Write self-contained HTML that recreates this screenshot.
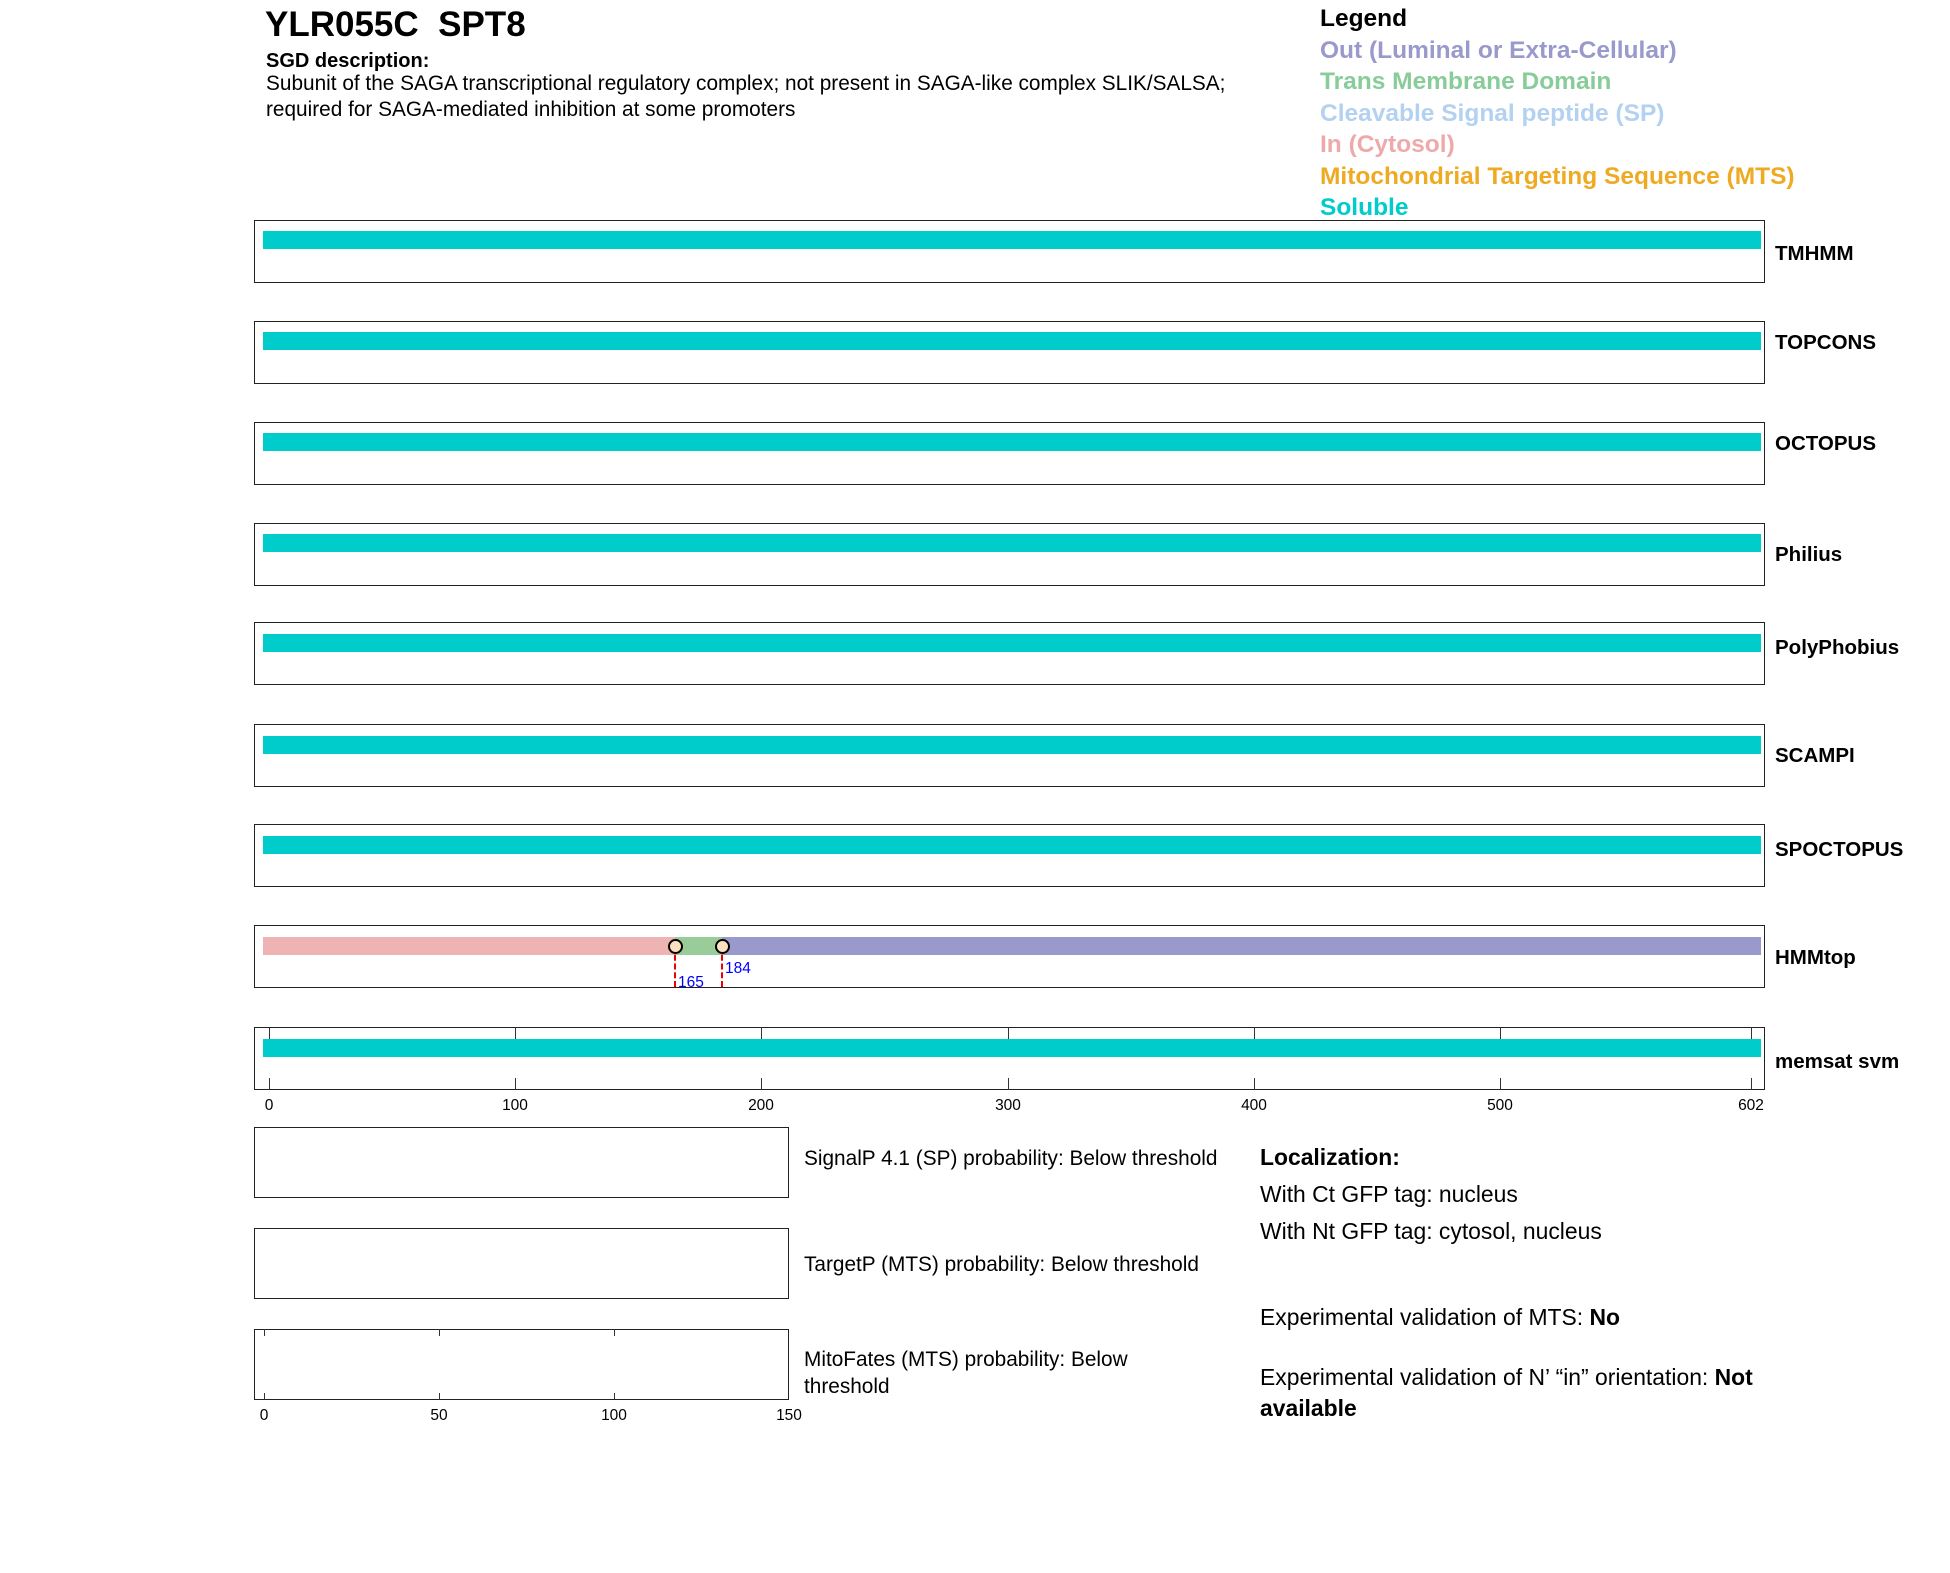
<!DOCTYPE html>
<html><head><meta charset="utf-8"><style>
body{margin:0;background:#fff;font-family:"Liberation Sans",Arial,sans-serif;}
.wrap{position:relative;width:1950px;height:1573px;overflow:hidden;}
.t{position:absolute;white-space:nowrap;}
.p{position:absolute;left:254px;width:1511px;height:63px;border:1.5px solid #222;box-sizing:border-box;}
.bar{position:absolute;left:263px;width:1498px;height:18px;background:#00cccc;}
.lab{position:absolute;left:1775px;font-weight:bold;font-size:20.5px;}
.bp{position:absolute;left:254px;width:535px;height:71px;border:1.5px solid #222;box-sizing:border-box;}
.tk{position:absolute;width:1px;background:#333;}
.ax{position:absolute;font-size:15.5px;transform:translateX(-50%);}
.rt{position:absolute;font-size:22.9px;left:1260px;white-space:nowrap;}
</style></head><body><div class="wrap">
<div class="t" style="left:265px;top:5px;font-size:35px;font-weight:bold">YLR055C&nbsp; SPT8</div>
<div class="t" style="left:266px;top:50px;font-size:20px;font-weight:bold">SGD description:</div>
<div class="t" style="left:266px;top:71px;font-size:20.8px;line-height:26px">Subunit of the SAGA transcriptional regulatory complex; not present in SAGA-like complex SLIK/SALSA;<br>required for SAGA-mediated inhibition at some promoters</div>
<div class="t" style="left:1320px;top:3px;font-size:24.5px;font-weight:bold;line-height:31.5px">
<div style="color:#000">Legend</div>
<div style="color:#9999cc">Out (Luminal or Extra-Cellular)</div>
<div style="color:#88cc99">Trans Membrane Domain</div>
<div style="color:#b3d1f0">Cleavable Signal peptide (SP)</div>
<div style="color:#eeaaaa">In (Cytosol)</div>
<div style="color:#eeaa22">Mitochondrial Targeting Sequence (MTS)</div>
<div style="color:#00cccc">Soluble</div>
</div>

<div class="p" style="top:220px"></div><div class="bar" style="top:231px"></div><div class="lab" style="top:242px">TMHMM</div>
<div class="p" style="top:321px"></div><div class="bar" style="top:332px"></div><div class="lab" style="top:331px">TOPCONS</div>
<div class="p" style="top:422px"></div><div class="bar" style="top:433px"></div><div class="lab" style="top:432px">OCTOPUS</div>
<div class="p" style="top:523px"></div><div class="bar" style="top:534px"></div><div class="lab" style="top:543px">Philius</div>
<div class="p" style="top:622px"></div><div class="bar" style="top:634px"></div><div class="lab" style="top:636px">PolyPhobius</div>
<div class="p" style="top:724px"></div><div class="bar" style="top:736px"></div><div class="lab" style="top:744px">SCAMPI</div>
<div class="p" style="top:824px"></div><div class="bar" style="top:836px"></div><div class="lab" style="top:838px">SPOCTOPUS</div>

<div class="p" style="top:925px"></div>
<div style="position:absolute;top:937px;left:263px;width:412px;height:18px;background:#eeb3b3"></div>
<div style="position:absolute;top:937px;left:675px;width:47px;height:18px;background:#99cc99"></div>
<div style="position:absolute;top:937px;left:722px;width:1039px;height:18px;background:#9999cc"></div>
<div style="position:absolute;left:674px;top:946px;height:41px;border-left:2px dashed #e00"></div>
<div style="position:absolute;left:721px;top:946px;height:41px;border-left:2px dashed #e00"></div>
<div style="position:absolute;left:668px;top:939px;width:11px;height:11px;border:2px solid #000;border-radius:50%;background:#fde0c0"></div>
<div style="position:absolute;left:715px;top:939px;width:11px;height:11px;border:2px solid #000;border-radius:50%;background:#fde0c0"></div>
<div class="t" style="left:678px;top:974px;font-size:15.5px;color:#00f">165</div>
<div class="t" style="left:725px;top:960px;font-size:15.5px;color:#00f">184</div>
<div class="lab" style="top:946px">HMMtop</div>

<div class="p" style="top:1027px"></div><div class="bar" style="top:1039px"></div><div class="lab" style="top:1050px">memsat svm</div>
<div class="tk" style="left:269px;top:1027px;height:12px"></div><div class="tk" style="left:269px;top:1078px;height:12px"></div>
<div class="tk" style="left:515px;top:1027px;height:12px"></div><div class="tk" style="left:515px;top:1078px;height:12px"></div>
<div class="tk" style="left:761px;top:1027px;height:12px"></div><div class="tk" style="left:761px;top:1078px;height:12px"></div>
<div class="tk" style="left:1008px;top:1027px;height:12px"></div><div class="tk" style="left:1008px;top:1078px;height:12px"></div>
<div class="tk" style="left:1254px;top:1027px;height:12px"></div><div class="tk" style="left:1254px;top:1078px;height:12px"></div>
<div class="tk" style="left:1500px;top:1027px;height:12px"></div><div class="tk" style="left:1500px;top:1078px;height:12px"></div>
<div class="tk" style="left:1751px;top:1027px;height:12px"></div><div class="tk" style="left:1751px;top:1078px;height:12px"></div>
<div class="ax" style="left:269px;top:1097px">0</div><div class="ax" style="left:515px;top:1097px">100</div><div class="ax" style="left:761px;top:1097px">200</div><div class="ax" style="left:1008px;top:1097px">300</div><div class="ax" style="left:1254px;top:1097px">400</div><div class="ax" style="left:1500px;top:1097px">500</div><div class="ax" style="left:1751px;top:1097px">602</div>

<div class="bp" style="top:1127px"></div>
<div class="bp" style="top:1228px"></div>
<div class="bp" style="top:1329px"></div>
<div class="tk" style="left:264px;top:1329px;height:7px"></div><div class="tk" style="left:439px;top:1329px;height:7px"></div><div class="tk" style="left:614px;top:1329px;height:7px"></div>
<div class="tk" style="left:264px;top:1393px;height:7px"></div><div class="tk" style="left:439px;top:1393px;height:7px"></div><div class="tk" style="left:614px;top:1393px;height:7px"></div>
<div class="ax" style="left:264px;top:1407px">0</div><div class="ax" style="left:439px;top:1407px">50</div><div class="ax" style="left:614px;top:1407px">100</div><div class="ax" style="left:789px;top:1407px">150</div>

<div class="t" style="left:804px;top:1147px;font-size:20.8px">SignalP 4.1 (SP) probability: Below threshold</div>
<div class="t" style="left:804px;top:1253px;font-size:20.8px">TargetP (MTS) probability: Below threshold</div>
<div class="t" style="left:804px;top:1346px;font-size:20.8px;line-height:27px">MitoFates (MTS) probability: Below<br>threshold</div>

<div class="rt" style="top:1144px;font-weight:bold">Localization:</div>
<div class="rt" style="top:1181px">With Ct GFP tag: nucleus</div>
<div class="rt" style="top:1218px">With Nt GFP tag: cytosol, nucleus</div>
<div class="rt" style="top:1304px">Experimental validation of MTS: <b>No</b></div>
<div class="rt" style="top:1362px;line-height:31px">Experimental validation of N’ “in” orientation: <b>Not</b><br><b>available</b></div>
</div></body></html>
